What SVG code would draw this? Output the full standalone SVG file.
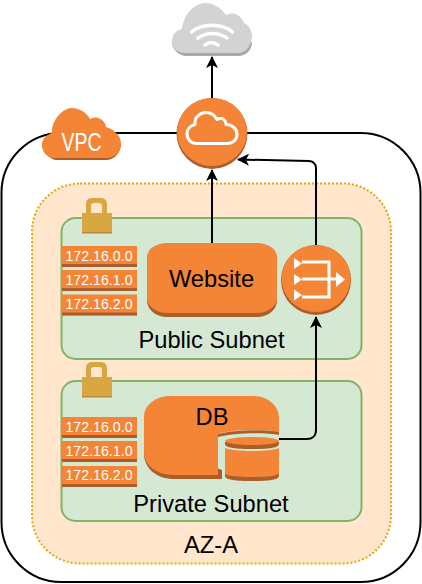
<svg xmlns="http://www.w3.org/2000/svg" width="422" height="584" viewBox="0 0 422 584">
<style>
text{font-family:"Liberation Sans",Arial,sans-serif;fill:#000;text-anchor:middle}
.sub{fill:#d5e8d4;stroke:#82b366;stroke-width:2}
.o{fill:#f58536}.d{fill:#ab5e2a}.w{fill:#fff}
.ip{font-size:14.200px;fill:#fff}
.lbl{font-size:23.700px}
.c{fill:none;stroke:#000;stroke-width:2}
</style>
<defs>
<marker id="a" viewBox="0 0 12 12" refX="11" refY="6" markerWidth="12" markerHeight="12" markerUnits="userSpaceOnUse" orient="auto"><path d="M0 0L12 6L0 12L3 6Z" fill="#000"/></marker>
<g id="tag"><rect x="62" y="0" width="75" height="21" fill="#f58536"/><rect x="62" y="18" width="75" height="3" fill="#ab5e2a"/></g>
<g id="lock"><path d="M86 213v-9c0-4 3-6 6-6h9c3 0 6 2 6 6v9h-5v-7c0-2-1-3-3-3h-5c-2 0-3 1-3 3v7z" fill="#d9a741"/><rect x="82" y="213" width="30" height="20" fill="#d9a741"/><rect x="82" y="232" width="30" height="1.500" fill="#b8893a"/></g>
</defs>
<g id="vpc-box"><rect x="1.500" y="133" width="419" height="449" rx="60" ry="60" fill="#fff" stroke="#000" stroke-width="2"/></g>
<g id="az"><rect x="32" y="183.500" width="359" height="380" rx="48" ry="48" fill="#ffe6cc" stroke="#e5a50a" stroke-width="2" stroke-dasharray="2 2"/><text class="lbl" x="211" y="553">AZ-A</text></g>
<g id="public-subnet"><rect class="sub" x="61.500" y="218" width="300" height="141" rx="14"/><use href="#lock"/><text class="lbl" x="211.500" y="348">Public Subnet</text></g>
<g id="private-subnet"><rect class="sub" x="61.500" y="381" width="300" height="140" rx="14"/><use href="#lock" y="164"/><text class="lbl" x="211" y="512">Private Subnet</text></g>
<g id="public-ips"><use href="#tag" y="246"/><use href="#tag" y="270"/><use href="#tag" y="294.500"/>
<text class="ip" x="99" y="261">172.16.0.0</text><text class="ip" x="99" y="285">172.16.1.0</text><text class="ip" x="99" y="309">172.16.2.0</text></g>
<g id="private-ips"><use href="#tag" y="417"/><use href="#tag" y="441"/><use href="#tag" y="466"/>
<text class="ip" x="99" y="432">172.16.0.0</text><text class="ip" x="99" y="456">172.16.1.0</text><text class="ip" x="99" y="480">172.16.2.0</text></g>
<g id="website"><path class="d" d="M147 270v30c0 10 9 17 20 17h90c11 0 20-7 20-17v-30z"/><path class="o" d="M167 243h90c11 0 20 6 20 14v41c0 8-9 15-20 15h-90c-11 0-20-7-20-15v-41c0-8 9-14 20-14z"/><text class="lbl" x="211.500" y="287">Website</text></g>
<g id="db">
<path class="d" d="M144 440v13c0 16 13 26 30 26h48v-9z"/>
<path class="o" d="M170 396h83c14 0 26 9 26 22v14c-14-3-48-3-61 2v41h-44c-17 0-30-9-30-24v-34c0-12 12-21 26-21z"/>
<path class="d" d="M218 434c14-4 47-5 61-2v3c-14-3-47-2-61 2z"/>
<path class="d" d="M225 442v2c0 4 12 5 27 5s27-1 27-5v-2z"/>
<ellipse class="o" cx="252" cy="441" rx="27" ry="4"/>
<path class="d" d="M225 470v6c0 4 12 5 27 5s27-1 27-5v-6z"/>
<path class="o" d="M225 448c10 4 44 4 54 0v25c0 3-12 4-27 4s-27-1-27-4z"/>
<text class="lbl" x="212" y="425">DB</text></g>
<g id="connectors">
<path class="c" d="M212 98V57" marker-end="url(#a)"/>
<path class="c" d="M212 243V170" marker-end="url(#a)"/>
<path class="c" d="M316 245V168c0-4-3-7-7-7L238 159.500" marker-end="url(#a)"/>
<path class="c" d="M279 439h28c5 0 9-3 9-9V317" marker-end="url(#a)"/>
</g>
<g id="nat"><circle class="d" cx="316" cy="280" r="35"/><ellipse class="o" cx="316" cy="278.500" rx="34.500" ry="33.500"/>
<path class="w" d="M294 258l8 5.500-8 5.500zM294 274l8 5.500-8 5.500zM294 289.500l8 5.500-8 5.500z"/>
<path d="M302 262h27v35h-27M302 279h34" fill="none" stroke="#fff" stroke-width="3"/>
<path class="w" d="M336 272l9 7.500-9 7.500z"/></g>
<g id="igw"><circle class="d" cx="212" cy="133.500" r="35.500"/><ellipse class="o" cx="212" cy="132" rx="35" ry="34"/>
<path d="M197 143.500c-6 0-10-4-10-10 0-5 4-8 8-9-1-7 5-12 11-12 5 0 9 3 11 7 1-1 3-1 4-1 3 0 5 3 5 6 6 0 11 4 11 10 0 5-4 9-10 9z" fill="none" stroke="#fff" stroke-width="3" stroke-linejoin="round"/></g>
<g id="internet"><path d="M172 42c0 8 8 14 14 14h52c8 0 14-6 14-14z" fill="#a8a9a9"/><path d="M185 53c-8 0-13-5-13-12 0-6 4-11 10-12 0-2 1-6 2-8 3-10 12-18 22-18 8 0 16 6 20 12 3-1 6-2 9-1 4 1 8 5 9 9 5 2 8 8 8 13 0 9-6 17-14 17z" fill="#d2d3d3"/>
<path d="M191.500 32c11-9 30-9 41 0M198 38c9-6 20-6 29 0M205 45c4-3 9-3 13 0" fill="none" stroke="#fff" stroke-width="3.500" stroke-linecap="round"/></g>
<g id="vpc"><path d="M42 143c0 9 8 17 15 17h49c8 0 15-7 15-17z" fill="#ab5e2a"/><path class="o" d="M55 158c-8 0-13-6-13-13 0-6 4-10 10-12 0-3 0-6 1-8 3-9 11-17 19-17 8 0 15 5 18 11 2-1 5-2 8-1 4 1 8 5 8 9 3 1 6 2 9 5 4 3 6 7 6 12 0 7-6 14-14 14z"/>
<text x="81.500" y="150.500" style="fill:#fff;font-size:26px;font-family:'Liberation Sans Narrow','Liberation Sans',sans-serif" textLength="40" lengthAdjust="spacingAndGlyphs">VPC</text></g>
</svg>
